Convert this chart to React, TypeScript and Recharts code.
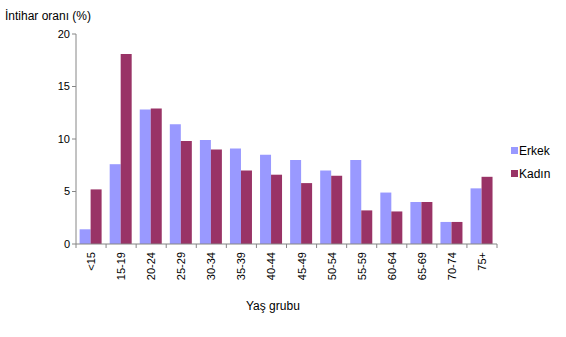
import { Bar, BarChart, XAxis, YAxis } from "recharts";

const ageGroups = ["<15", "15-19", "20-24", "25-29", "30-34", "35-39", "40-44", "45-49", "50-54", "55-59", "60-64", "65-69", "70-74", "75+"];
const erkek = [1.4, 7.6, 12.8, 11.4, 9.9, 9.1, 8.5, 8.0, 7.0, 8.0, 4.9, 4.0, 2.1, 5.3];
const kadin = [5.2, 18.1, 12.9, 9.8, 9.0, 7.0, 6.6, 5.8, 6.5, 3.2, 3.1, 4.0, 2.1, 6.4];
const yTicks = [0, 5, 10, 15, 20];
const seriesNames = ["Erkek", "Kadın"];
const seriesColors = ["#9999FF", "#993366"];

const data = ageGroups.map((g, i) => ({ group: g, Erkek: erkek[i], Kadın: kadin[i] }));

const FONT = "'Liberation Sans', Arial, sans-serif";
const AXIS = "#868686";
const LEFT = 76;
const RIGHT = 497;
const BAND = (RIGHT - LEFT) / ageGroups.length;

function XTick(props: any) {
  const { x, y, payload, index } = props;
  const left = x - BAND / 2;
  return (
    <g>
      <line x1={left} x2={left} y1={y - 8} y2={y - 4} stroke={AXIS} />
      {index === ageGroups.length - 1 && (
        <line x1={left + BAND} x2={left + BAND} y1={y - 8} y2={y - 4} stroke={AXIS} />
      )}
      <text
        x={x + 4}
        y={y}
        transform={`rotate(-90 ${x + 4} ${y})`}
        textAnchor="end"
        fontSize={11}
        fontFamily={FONT}
        fill="#000"
      >
        {payload.value}
      </text>
    </g>
  );
}

export default function App() {
  return (
    <div style={{ position: "absolute", left: 0, top: 0, width: 566, height: 337, background: "#fff" }}>
      <BarChart
        width={566}
        height={337}
        data={data}
        margin={{ top: 34, right: 69, bottom: 0, left: 0 }}
        barCategoryGap="12%"
        barGap={0}
      >
        <XAxis
          dataKey="group"
          interval={0}
          tickLine={false}
          stroke={AXIS}
          tick={<XTick />}
          height={93}
        />
        <YAxis
          domain={[0, 20]}
          ticks={yTicks}
          width={76}
          stroke={AXIS}
          tickSize={4}
          tick={{ fill: "#000", fontSize: 11, fontFamily: FONT }}
        />
        <Bar dataKey="Erkek" fill={seriesColors[0]} isAnimationActive={false} />
        <Bar dataKey="Kadın" fill={seriesColors[1]} isAnimationActive={false} />
      </BarChart>
      <div style={{ position: "absolute", left: 511, top: 139, fontFamily: FONT, fontSize: 12 }}>
        {seriesNames.map((n, i) => (
          <div key={n} style={{ display: "flex", alignItems: "center", height: 23 }}>
            <span style={{ width: 7, height: 7, background: seriesColors[i], display: "inline-block", marginRight: 1 }} />
            <span>{n}</span>
          </div>
        ))}
      </div>
      <div style={{ position: "absolute", left: 5, top: 9, fontFamily: FONT, fontSize: 12 }}>İntihar oranı (%)</div>
      <div style={{ position: "absolute", left: 246, top: 299, fontFamily: FONT, fontSize: 12 }}>Yaş grubu</div>
    </div>
  );
}
